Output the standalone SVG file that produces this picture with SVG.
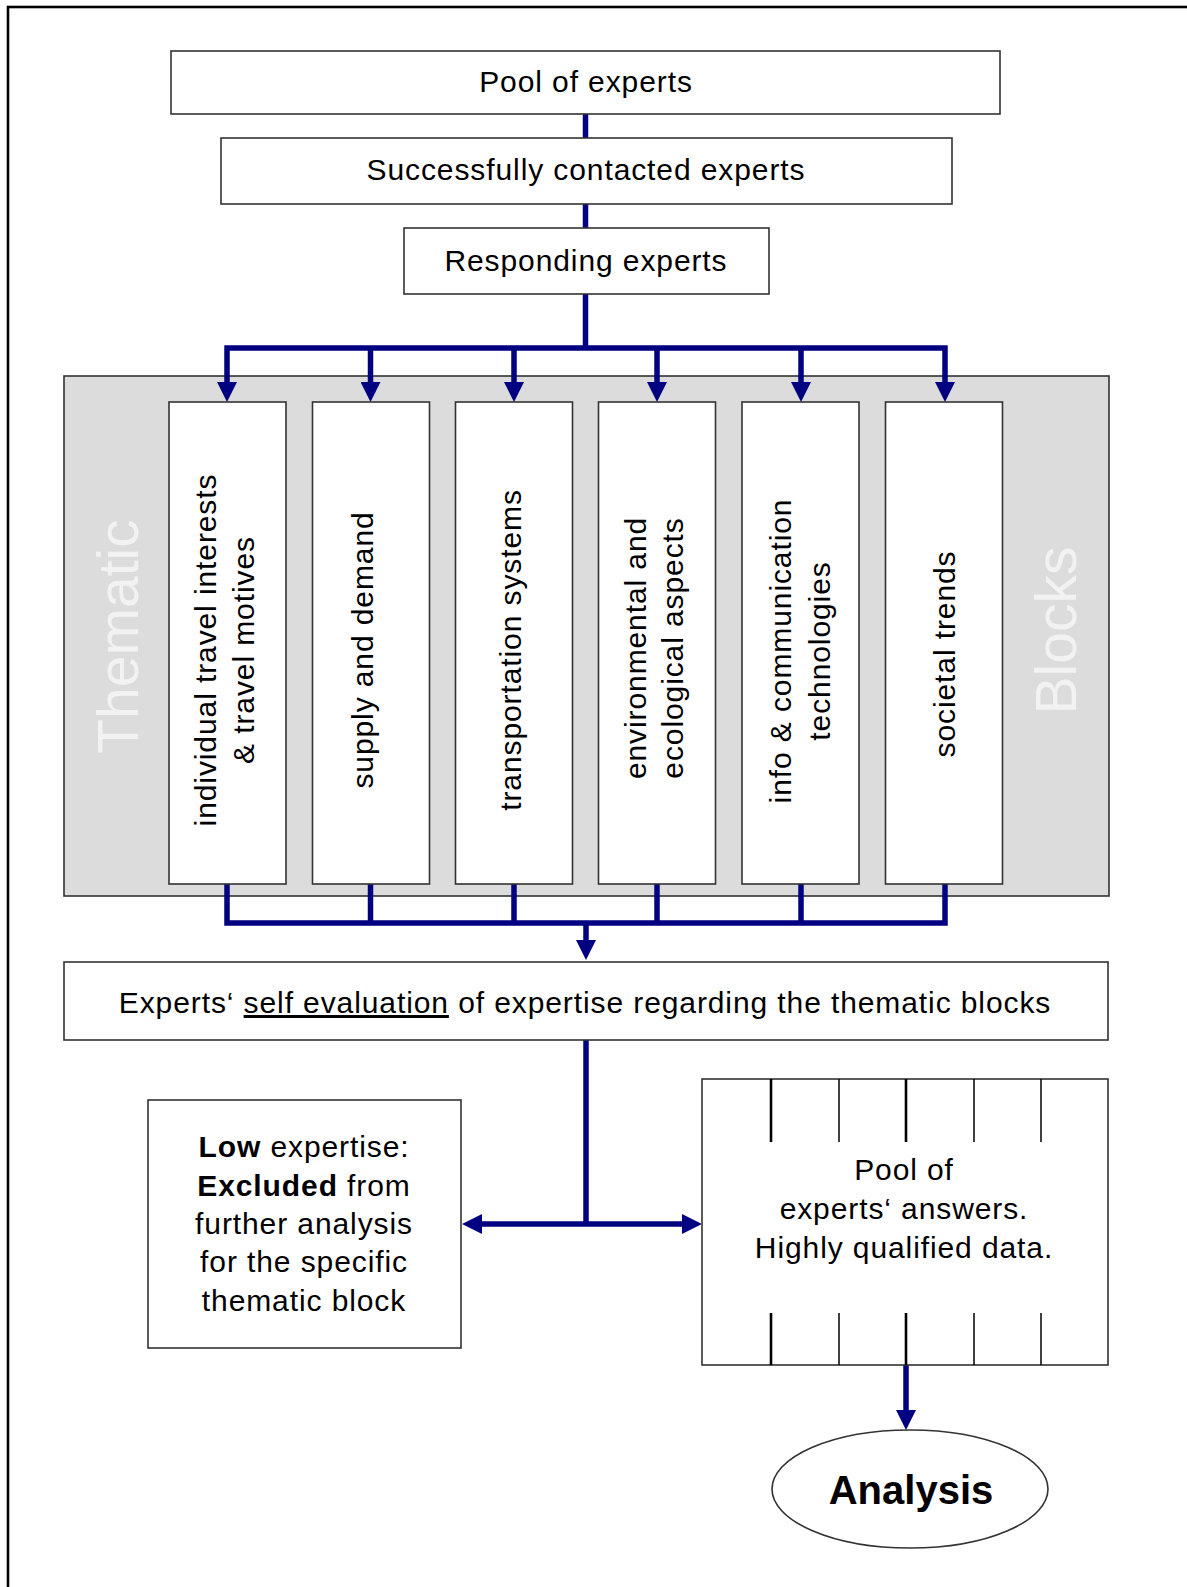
<svg xmlns="http://www.w3.org/2000/svg" width="1187" height="1587" viewBox="0 0 1187 1587">
<style>
.box{fill:#fff;stroke:#333;stroke-width:1.6}
.t{font-family:"Liberation Sans",Arial,sans-serif;font-size:30px;letter-spacing:0.9px;fill:#000;text-anchor:middle}
.big{font-family:"Liberation Sans",Arial,sans-serif;font-size:57px;fill:#f2f2f2;text-anchor:middle}
.conn{fill:none;stroke:#000080;stroke-width:5.5;stroke-linejoin:miter;stroke-linecap:butt}
.tick{stroke:#000;stroke-width:1.5}
.tickb{stroke:#000;stroke-width:2.6}
</style>
<defs>
<marker id="ah" viewBox="0 0 20 20" markerUnits="userSpaceOnUse" markerWidth="20" markerHeight="20" refX="2" refY="10" orient="auto">
<path d="M0,0 L20,10 L0,20 z" fill="#000080"/>
</marker>
</defs>
<rect width="1187" height="1587" fill="#fff"/>
<rect x="8" y="7" width="1200" height="1600" fill="none" stroke="#000" stroke-width="2.6"/>

<g id="panel">
<rect x="64" y="376" width="1045" height="520" fill="#dcdcdc" stroke="#333" stroke-width="1.6"/>
<text class="big" transform="translate(137.5,636.5) rotate(-90)">Thematic</text>
<text class="big" transform="translate(1076,630.5) rotate(-90)">Blocks</text>
</g>

<g id="connectors">
<path class="conn" d="M585.5,114 V348"/>
<path class="conn" d="M227,383 V348 H945 V383"/>
<path class="conn" d="M370.5,348 V383 M514,348 V383 M657,348 V383 M801,348 V383" />
<path class="conn" d="M227,383 V384" marker-end="url(#ah)"/>
<path class="conn" d="M370.5,383 V384" marker-end="url(#ah)"/>
<path class="conn" d="M514,383 V384" marker-end="url(#ah)"/>
<path class="conn" d="M657,383 V384" marker-end="url(#ah)"/>
<path class="conn" d="M801,383 V384" marker-end="url(#ah)"/>
<path class="conn" d="M945,383 V384" marker-end="url(#ah)"/>
<path class="conn" d="M227,884 V923 H945 V884"/>
<path class="conn" d="M370.5,884 V923 M514,884 V923 M657,884 V923 M801,884 V923"/>
<path class="conn" d="M586,923 V942" marker-end="url(#ah)"/>
<path class="conn" d="M586,1040 V1224"/>
<path class="conn" d="M586,1224 H480" marker-end="url(#ah)"/>
<path class="conn" d="M586,1224 H684" marker-end="url(#ah)"/>
<path class="conn" d="M906,1365 V1412" marker-end="url(#ah)"/>
</g>

<g id="pool">
<rect class="box" x="171" y="51" width="829" height="63"/>
<text class="t" x="586" y="92">Pool of experts</text>
</g>
<g id="contacted">
<rect class="box" x="221" y="138" width="731" height="66"/>
<text class="t" x="586" y="180">Successfully contacted experts</text>
</g>
<g id="responding">
<rect class="box" x="404" y="228" width="365" height="66"/>
<text class="t" x="586" y="271">Responding experts</text>
</g>

<g id="block1">
<rect class="box" x="169" y="402" width="117" height="482"/>
<text class="t" transform="translate(216,650) rotate(-90)">individual travel interests</text>
<text class="t" transform="translate(254,650) rotate(-90)">&amp; travel motives</text>
</g>
<g id="block2">
<rect class="box" x="312.5" y="402" width="117" height="482"/>
<text class="t" transform="translate(373,650) rotate(-90)">supply and demand</text>
</g>
<g id="block3">
<rect class="box" x="455.5" y="402" width="117" height="482"/>
<text class="t" transform="translate(521,650) rotate(-90)">transportation systems</text>
</g>
<g id="block4">
<rect class="box" x="598.5" y="402" width="117" height="482"/>
<text class="t" transform="translate(646,648) rotate(-90)">environmental and</text>
<text class="t" transform="translate(683,648) rotate(-90)">ecological aspects</text>
</g>
<g id="block5">
<rect class="box" x="742" y="402" width="117" height="482"/>
<text class="t" transform="translate(791,651) rotate(-90)">info &amp; communication</text>
<text class="t" transform="translate(830,651) rotate(-90)">technologies</text>
</g>
<g id="block6">
<rect class="box" x="885.5" y="402" width="117" height="482"/>
<text class="t" transform="translate(955,654) rotate(-90)">societal trends</text>
</g>

<g id="selfeval">
<rect class="box" x="64" y="962" width="1044" height="78"/>
<text class="t" x="585" y="1013">Experts‘ <tspan text-decoration="underline">self evaluation</tspan> of expertise regarding the thematic blocks</text>
</g>

<g id="low">
<rect class="box" x="148" y="1100" width="313" height="248"/>
<text class="t" x="304" y="1157"><tspan font-weight="bold">Low</tspan> expertise:</text>
<text class="t" x="304" y="1196"><tspan font-weight="bold">Excluded</tspan> from</text>
<text class="t" x="304" y="1234">further analysis</text>
<text class="t" x="304" y="1272">for the specific</text>
<text class="t" x="304" y="1311">thematic block</text>
</g>

<g id="answers">
<rect class="box" x="702" y="1079" width="406" height="286" stroke="#222"/>
<line class="tickb" x1="771" y1="1079" x2="771" y2="1142"/>
<line class="tick" x1="839" y1="1079" x2="839" y2="1142"/>
<line class="tickb" x1="906" y1="1079" x2="906" y2="1142"/>
<line class="tick" x1="974" y1="1079" x2="974" y2="1142"/>
<line class="tick" x1="1041" y1="1079" x2="1041" y2="1142"/>
<line class="tickb" x1="771" y1="1313" x2="771" y2="1365"/>
<line class="tick" x1="839" y1="1313" x2="839" y2="1365"/>
<line class="tickb" x1="906" y1="1313" x2="906" y2="1365"/>
<line class="tick" x1="974" y1="1313" x2="974" y2="1365"/>
<line class="tick" x1="1041" y1="1313" x2="1041" y2="1365"/>
<text class="t" x="904" y="1180">Pool of</text>
<text class="t" x="904" y="1219">experts‘ answers.</text>
<text class="t" x="904" y="1258">Highly qualified data.</text>
</g>

<g id="analysis">
<ellipse cx="910" cy="1489" rx="138" ry="59" fill="#fff" stroke="#333" stroke-width="1.6"/>
<text x="911" y="1504" font-family="Liberation Sans, Arial, sans-serif" font-size="40" font-weight="bold" text-anchor="middle">Analysis</text>
</g>
</svg>
